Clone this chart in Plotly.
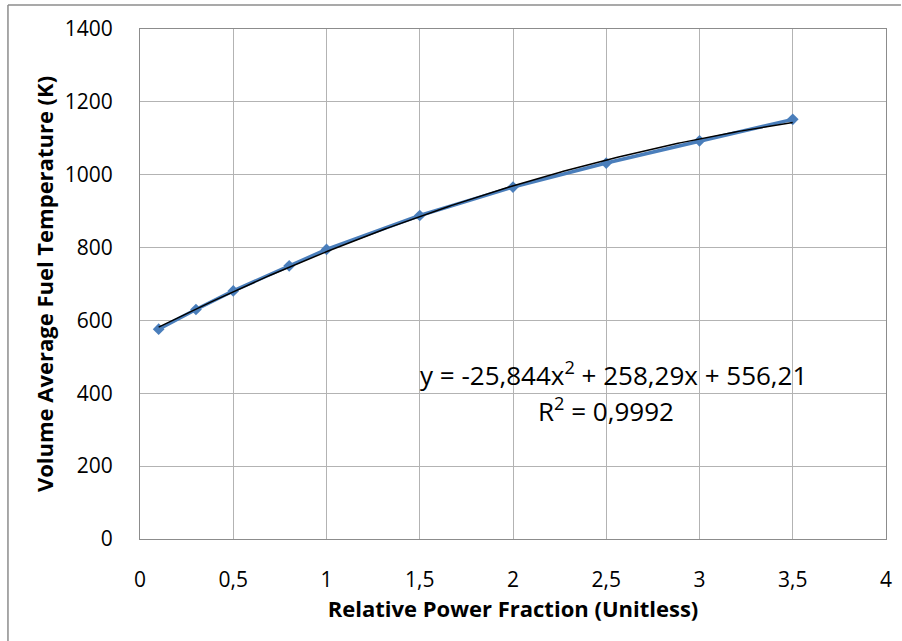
import numpy as np
import plotly.graph_objects as go

# Relative power fraction vs. volume-average fuel temperature
power_fraction = [0.1, 0.3, 0.5, 0.8, 1.0, 1.5, 2.0, 2.5, 3.0, 3.5]
fuel_temp_k = [576, 630, 681, 750, 795, 888, 966, 1032, 1093, 1152]

# Quadratic trendline coefficients (as printed on the chart)
coef_a = -25.844
coef_b = 258.29
coef_c = 556.21
r_squared = 0.9992

x_ticks = [0, 0.5, 1, 1.5, 2, 2.5, 3, 3.5, 4]
y_ticks = [0, 200, 400, 600, 800, 1000, 1200, 1400]

trend_x = np.linspace(min(power_fraction), max(power_fraction), 200)
trend_y = coef_a * trend_x**2 + coef_b * trend_x + coef_c

FONT = "Open Sans"
GRID = "#b3b3b3"

fig = go.Figure()
fig.add_trace(go.Scatter(
    x=power_fraction, y=fuel_temp_k, mode="lines+markers",
    line=dict(color="#4a7ebb", width=3.5),
    marker=dict(symbol="diamond", size=9, color="#4a7ebb"),
    showlegend=False, hoverinfo="x+y",
))
fig.add_trace(go.Scatter(
    x=trend_x, y=trend_y, mode="lines",
    line=dict(color="black", width=1.5),
    showlegend=False, hoverinfo="skip",
))

eq_text = "y = -25,844x<sup>2</sup> + 258,29x + 556,21"
r2_text = f"R<sup>2</sup> = {str(r_squared).replace('.', ',')}"

fig.update_layout(
    width=902, height=641,
    margin=dict(l=140, r=10, t=29, b=102),
    paper_bgcolor="white", plot_bgcolor="white",
    separators=", ",
    font=dict(family=FONT, color="black", size=20),
    xaxis=dict(
        range=[0, 4], tickvals=x_ticks, showgrid=True, gridcolor=GRID,
        gridwidth=1, zeroline=False, showline=True, linecolor="#8c8c8c",
        linewidth=1, mirror=True, ticks="", ticklabelstandoff=22,
        tickfont=dict(size=21, family=FONT),
        title=dict(text="<b>Relative Power Fraction (Unitless)</b>",
                   font=dict(size=22, family=FONT), standoff=5),
    ),
    yaxis=dict(
        range=[0, 1400], tickvals=y_ticks, showgrid=True, gridcolor=GRID,
        gridwidth=1, zeroline=False, showline=True, linecolor="#8c8c8c",
        linewidth=1, mirror=True, ticks="", ticklabelstandoff=22,
        tickfont=dict(size=21, family=FONT),
        title=dict(text="<b>Volume Average Fuel Temperature (K)</b>",
                   font=dict(size=22, family=FONT), standoff=5),
    ),
    annotations=[
        dict(x=2.537, y=453, xref="x", yref="y", text=eq_text,
             showarrow=False, font=dict(size=26, family=FONT)),
        dict(x=2.5, y=354, xref="x", yref="y", text=r2_text,
             showarrow=False, font=dict(size=26, family=FONT)),
    ],
    shapes=[
        dict(type="line", xref="paper", yref="paper",
             x0=-0.177, x1=1.02, y0=1.047, y1=1.047,
             line=dict(color="#8c8c8c", width=1.5)),
        dict(type="line", xref="paper", yref="paper",
             x0=-0.177, x1=-0.177, y0=1.047, y1=-0.25,
             line=dict(color="#8c8c8c", width=1.5)),
    ],
)

fig.write_html("out.html")
